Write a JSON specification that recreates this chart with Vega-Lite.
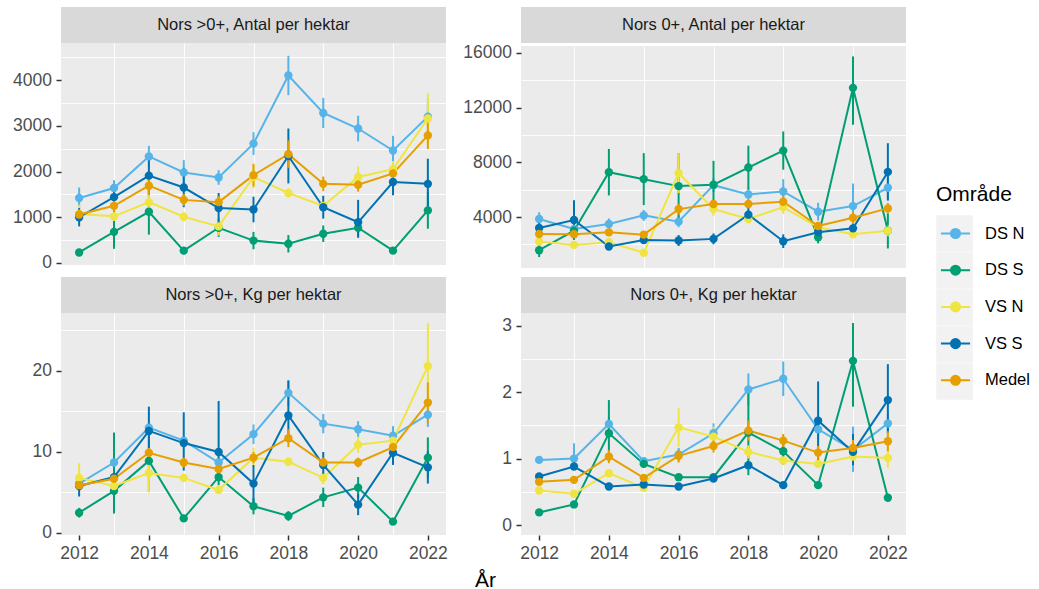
{
"$schema": "https://vega.github.io/schema/vega-lite/v6.json",
"padding": {"left": 12, "top": 7, "right": 4, "bottom": 0},
"background": "white",
"config": {
  "font": "Liberation Sans",
  "view": {"stroke": null},
  "axis": {"labelFont": "Liberation Sans", "labelFontSize": 17.5, "labelColor": "#4D4D4D", "tickColor": "#333333", "tickWidth": 1.5, "tickSize": 5, "labelPadding": 4.5, "domain": false, "gridColor": "#FFFFFF", "gridWidth": 1.8, "titleFont": "Liberation Sans"}
},
"datasets": {"d": [
{"p":"A","o":"DS N","year":2012,"v":1420,"lo":1190,"hi":1650},
{"p":"A","o":"DS N","year":2013,"v":1640,"lo":1470,"hi":1810},
{"p":"A","o":"DS N","year":2014,"v":2330,"lo":2100,"hi":2560},
{"p":"A","o":"DS N","year":2015,"v":1980,"lo":1710,"hi":2250},
{"p":"A","o":"DS N","year":2016,"v":1870,"lo":1710,"hi":2030},
{"p":"A","o":"DS N","year":2017,"v":2610,"lo":2360,"hi":2860},
{"p":"A","o":"DS N","year":2018,"v":4100,"lo":3670,"hi":4530},
{"p":"A","o":"DS N","year":2019,"v":3280,"lo":2950,"hi":3610},
{"p":"A","o":"DS N","year":2020,"v":2940,"lo":2660,"hi":3220},
{"p":"A","o":"DS N","year":2021,"v":2460,"lo":2140,"hi":2780},
{"p":"A","o":"DS N","year":2022,"v":3200,"lo":2820,"hi":3580},
{"p":"A","o":"DS S","year":2012,"v":230,"lo":170,"hi":290},
{"p":"A","o":"DS S","year":2013,"v":680,"lo":310,"hi":1220},
{"p":"A","o":"DS S","year":2014,"v":1120,"lo":620,"hi":1620},
{"p":"A","o":"DS S","year":2015,"v":270,"lo":190,"hi":350},
{"p":"A","o":"DS S","year":2016,"v":770,"lo":570,"hi":970},
{"p":"A","o":"DS S","year":2017,"v":490,"lo":300,"hi":680},
{"p":"A","o":"DS S","year":2018,"v":420,"lo":230,"hi":610},
{"p":"A","o":"DS S","year":2019,"v":640,"lo":460,"hi":820},
{"p":"A","o":"DS S","year":2020,"v":770,"lo":590,"hi":950},
{"p":"A","o":"DS S","year":2021,"v":270,"lo":210,"hi":330},
{"p":"A","o":"DS S","year":2022,"v":1150,"lo":750,"hi":1550},
{"p":"A","o":"VS N","year":2012,"v":1070,"lo":870,"hi":1270},
{"p":"A","o":"VS N","year":2013,"v":1020,"lo":920,"hi":1120},
{"p":"A","o":"VS N","year":2014,"v":1330,"lo":1150,"hi":1510},
{"p":"A","o":"VS N","year":2015,"v":1010,"lo":910,"hi":1110},
{"p":"A","o":"VS N","year":2016,"v":800,"lo":600,"hi":1000},
{"p":"A","o":"VS N","year":2017,"v":1880,"lo":1630,"hi":2130},
{"p":"A","o":"VS N","year":2018,"v":1530,"lo":1430,"hi":1630},
{"p":"A","o":"VS N","year":2019,"v":1250,"lo":1150,"hi":1350},
{"p":"A","o":"VS N","year":2020,"v":1880,"lo":1650,"hi":2110},
{"p":"A","o":"VS N","year":2021,"v":2050,"lo":1870,"hi":2230},
{"p":"A","o":"VS N","year":2022,"v":3160,"lo":2610,"hi":3710},
{"p":"A","o":"VS S","year":2012,"v":1000,"lo":800,"hi":1200},
{"p":"A","o":"VS S","year":2013,"v":1440,"lo":1220,"hi":1660},
{"p":"A","o":"VS S","year":2014,"v":1910,"lo":1490,"hi":2330},
{"p":"A","o":"VS S","year":2015,"v":1650,"lo":1220,"hi":2080},
{"p":"A","o":"VS S","year":2016,"v":1200,"lo":870,"hi":1530},
{"p":"A","o":"VS S","year":2017,"v":1170,"lo":890,"hi":1450},
{"p":"A","o":"VS S","year":2018,"v":2340,"lo":1740,"hi":2940},
{"p":"A","o":"VS S","year":2019,"v":1220,"lo":970,"hi":1470},
{"p":"A","o":"VS S","year":2020,"v":890,"lo":550,"hi":1380},
{"p":"A","o":"VS S","year":2021,"v":1770,"lo":1480,"hi":2060},
{"p":"A","o":"VS S","year":2022,"v":1730,"lo":1180,"hi":2280},
{"p":"A","o":"Medel","year":2012,"v":1060,"lo":960,"hi":1160},
{"p":"A","o":"Medel","year":2013,"v":1250,"lo":1130,"hi":1370},
{"p":"A","o":"Medel","year":2014,"v":1690,"lo":1490,"hi":1890},
{"p":"A","o":"Medel","year":2015,"v":1380,"lo":1250,"hi":1510},
{"p":"A","o":"Medel","year":2016,"v":1330,"lo":1200,"hi":1460},
{"p":"A","o":"Medel","year":2017,"v":1920,"lo":1670,"hi":2170},
{"p":"A","o":"Medel","year":2018,"v":2380,"lo":2080,"hi":2680},
{"p":"A","o":"Medel","year":2019,"v":1730,"lo":1570,"hi":1890},
{"p":"A","o":"Medel","year":2020,"v":1710,"lo":1560,"hi":1860},
{"p":"A","o":"Medel","year":2021,"v":1960,"lo":1790,"hi":2130},
{"p":"A","o":"Medel","year":2022,"v":2790,"lo":2490,"hi":3090},
{"p":"B","o":"DS N","year":2012,"v":3850,"lo":3350,"hi":4350},
{"p":"B","o":"DS N","year":2013,"v":3130,"lo":2830,"hi":3430},
{"p":"B","o":"DS N","year":2014,"v":3490,"lo":3090,"hi":3890},
{"p":"B","o":"DS N","year":2015,"v":4120,"lo":3720,"hi":4520},
{"p":"B","o":"DS N","year":2016,"v":3660,"lo":3260,"hi":4060},
{"p":"B","o":"DS N","year":2017,"v":6330,"lo":5830,"hi":6830},
{"p":"B","o":"DS N","year":2018,"v":5650,"lo":5150,"hi":6150},
{"p":"B","o":"DS N","year":2019,"v":5870,"lo":4970,"hi":6770},
{"p":"B","o":"DS N","year":2020,"v":4390,"lo":3740,"hi":5040},
{"p":"B","o":"DS N","year":2021,"v":4800,"lo":3150,"hi":6450},
{"p":"B","o":"DS N","year":2022,"v":6140,"lo":5290,"hi":6990},
{"p":"B","o":"DS S","year":2012,"v":1570,"lo":1070,"hi":2070},
{"p":"B","o":"DS S","year":2013,"v":3000,"lo":2600,"hi":3400},
{"p":"B","o":"DS S","year":2014,"v":7280,"lo":5580,"hi":8980},
{"p":"B","o":"DS S","year":2015,"v":6770,"lo":4870,"hi":8670},
{"p":"B","o":"DS S","year":2016,"v":6260,"lo":3860,"hi":8660},
{"p":"B","o":"DS S","year":2017,"v":6360,"lo":4610,"hi":8110},
{"p":"B","o":"DS S","year":2018,"v":7620,"lo":6020,"hi":9220},
{"p":"B","o":"DS S","year":2019,"v":8860,"lo":7460,"hi":10260},
{"p":"B","o":"DS S","year":2020,"v":2520,"lo":2070,"hi":2970},
{"p":"B","o":"DS S","year":2021,"v":13450,"lo":10750,"hi":15750},
{"p":"B","o":"DS S","year":2022,"v":3000,"lo":1700,"hi":4300},
{"p":"B","o":"VS N","year":2012,"v":2200,"lo":2000,"hi":2400},
{"p":"B","o":"VS N","year":2013,"v":1960,"lo":1760,"hi":2160},
{"p":"B","o":"VS N","year":2014,"v":2150,"lo":1950,"hi":2350},
{"p":"B","o":"VS N","year":2015,"v":1380,"lo":1180,"hi":1580},
{"p":"B","o":"VS N","year":2016,"v":7210,"lo":5760,"hi":8660},
{"p":"B","o":"VS N","year":2017,"v":4580,"lo":4080,"hi":5080},
{"p":"B","o":"VS N","year":2018,"v":3850,"lo":3550,"hi":4150},
{"p":"B","o":"VS N","year":2019,"v":4730,"lo":4230,"hi":5230},
{"p":"B","o":"VS N","year":2020,"v":3250,"lo":2950,"hi":3550},
{"p":"B","o":"VS N","year":2021,"v":2740,"lo":2540,"hi":2940},
{"p":"B","o":"VS N","year":2022,"v":3000,"lo":2600,"hi":3400},
{"p":"B","o":"VS S","year":2012,"v":3200,"lo":2800,"hi":3600},
{"p":"B","o":"VS S","year":2013,"v":3780,"lo":2330,"hi":5230},
{"p":"B","o":"VS S","year":2014,"v":1840,"lo":1640,"hi":2040},
{"p":"B","o":"VS S","year":2015,"v":2320,"lo":2120,"hi":2520},
{"p":"B","o":"VS S","year":2016,"v":2280,"lo":1880,"hi":2680},
{"p":"B","o":"VS S","year":2017,"v":2400,"lo":2000,"hi":2800},
{"p":"B","o":"VS S","year":2018,"v":4170,"lo":3670,"hi":4670},
{"p":"B","o":"VS S","year":2019,"v":2230,"lo":1730,"hi":2730},
{"p":"B","o":"VS S","year":2020,"v":2880,"lo":2580,"hi":3180},
{"p":"B","o":"VS S","year":2021,"v":3170,"lo":2870,"hi":3470},
{"p":"B","o":"VS S","year":2022,"v":7300,"lo":5200,"hi":9400},
{"p":"B","o":"Medel","year":2012,"v":2760,"lo":2560,"hi":2960},
{"p":"B","o":"Medel","year":2013,"v":2740,"lo":2540,"hi":2940},
{"p":"B","o":"Medel","year":2014,"v":2880,"lo":2680,"hi":3080},
{"p":"B","o":"Medel","year":2015,"v":2710,"lo":2510,"hi":2910},
{"p":"B","o":"Medel","year":2016,"v":4580,"lo":4180,"hi":4980},
{"p":"B","o":"Medel","year":2017,"v":4950,"lo":4650,"hi":5250},
{"p":"B","o":"Medel","year":2018,"v":4950,"lo":4650,"hi":5250},
{"p":"B","o":"Medel","year":2019,"v":5120,"lo":4720,"hi":5520},
{"p":"B","o":"Medel","year":2020,"v":3340,"lo":3040,"hi":3640},
{"p":"B","o":"Medel","year":2021,"v":3950,"lo":3550,"hi":4350},
{"p":"B","o":"Medel","year":2022,"v":4630,"lo":4230,"hi":5030},
{"p":"C","o":"DS N","year":2012,"v":6.1,"lo":5.6,"hi":6.6},
{"p":"C","o":"DS N","year":2013,"v":8.7,"lo":7.9,"hi":9.5},
{"p":"C","o":"DS N","year":2014,"v":13.0,"lo":12.4,"hi":13.6},
{"p":"C","o":"DS N","year":2015,"v":11.4,"lo":10.8,"hi":12.0},
{"p":"C","o":"DS N","year":2016,"v":8.7,"lo":8.1,"hi":9.3},
{"p":"C","o":"DS N","year":2017,"v":12.2,"lo":11.0,"hi":13.4},
{"p":"C","o":"DS N","year":2018,"v":17.3,"lo":15.7,"hi":18.9},
{"p":"C","o":"DS N","year":2019,"v":13.5,"lo":12.3,"hi":14.7},
{"p":"C","o":"DS N","year":2020,"v":12.8,"lo":11.8,"hi":13.8},
{"p":"C","o":"DS N","year":2021,"v":12.0,"lo":10.8,"hi":13.2},
{"p":"C","o":"DS N","year":2022,"v":14.6,"lo":13.1,"hi":16.1},
{"p":"C","o":"DS S","year":2012,"v":2.5,"lo":1.9,"hi":3.1},
{"p":"C","o":"DS S","year":2013,"v":5.2,"lo":2.4,"hi":12.4},
{"p":"C","o":"DS S","year":2014,"v":8.9,"lo":5.1,"hi":12.7},
{"p":"C","o":"DS S","year":2015,"v":1.8,"lo":1.4,"hi":2.2},
{"p":"C","o":"DS S","year":2016,"v":6.9,"lo":5.9,"hi":7.9},
{"p":"C","o":"DS S","year":2017,"v":3.3,"lo":2.3,"hi":4.3},
{"p":"C","o":"DS S","year":2018,"v":2.1,"lo":1.5,"hi":2.7},
{"p":"C","o":"DS S","year":2019,"v":4.4,"lo":3.2,"hi":5.6},
{"p":"C","o":"DS S","year":2020,"v":5.6,"lo":4.3,"hi":6.9},
{"p":"C","o":"DS S","year":2021,"v":1.4,"lo":1.1,"hi":1.7},
{"p":"C","o":"DS S","year":2022,"v":9.3,"lo":6.8,"hi":11.8},
{"p":"C","o":"VS N","year":2012,"v":6.8,"lo":5.2,"hi":8.6},
{"p":"C","o":"VS N","year":2013,"v":5.8,"lo":5.3,"hi":6.3},
{"p":"C","o":"VS N","year":2014,"v":7.4,"lo":5.0,"hi":9.8},
{"p":"C","o":"VS N","year":2015,"v":6.8,"lo":6.3,"hi":7.3},
{"p":"C","o":"VS N","year":2016,"v":5.3,"lo":4.8,"hi":5.8},
{"p":"C","o":"VS N","year":2017,"v":9.3,"lo":8.1,"hi":10.5},
{"p":"C","o":"VS N","year":2018,"v":8.8,"lo":8.3,"hi":9.3},
{"p":"C","o":"VS N","year":2019,"v":6.8,"lo":6.0,"hi":7.6},
{"p":"C","o":"VS N","year":2020,"v":10.9,"lo":9.9,"hi":11.9},
{"p":"C","o":"VS N","year":2021,"v":11.4,"lo":10.4,"hi":12.4},
{"p":"C","o":"VS N","year":2022,"v":20.6,"lo":15.3,"hi":25.9},
{"p":"C","o":"VS S","year":2012,"v":5.8,"lo":4.5,"hi":7.1},
{"p":"C","o":"VS S","year":2013,"v":6.9,"lo":6.4,"hi":7.4},
{"p":"C","o":"VS S","year":2014,"v":12.6,"lo":9.6,"hi":15.6},
{"p":"C","o":"VS S","year":2015,"v":11.1,"lo":7.7,"hi":14.9},
{"p":"C","o":"VS S","year":2016,"v":10.0,"lo":7.1,"hi":16.3},
{"p":"C","o":"VS S","year":2017,"v":6.1,"lo":3.6,"hi":8.4},
{"p":"C","o":"VS S","year":2018,"v":14.5,"lo":11.5,"hi":18.8},
{"p":"C","o":"VS S","year":2019,"v":8.4,"lo":6.8,"hi":10.0},
{"p":"C","o":"VS S","year":2020,"v":3.5,"lo":2.2,"hi":4.8},
{"p":"C","o":"VS S","year":2021,"v":9.9,"lo":8.4,"hi":11.4},
{"p":"C","o":"VS S","year":2022,"v":8.1,"lo":6.1,"hi":10.1},
{"p":"C","o":"Medel","year":2012,"v":5.9,"lo":5.5,"hi":6.3},
{"p":"C","o":"Medel","year":2013,"v":6.7,"lo":6.3,"hi":7.1},
{"p":"C","o":"Medel","year":2014,"v":9.9,"lo":9.3,"hi":10.5},
{"p":"C","o":"Medel","year":2015,"v":8.7,"lo":8.1,"hi":9.3},
{"p":"C","o":"Medel","year":2016,"v":7.9,"lo":7.3,"hi":8.5},
{"p":"C","o":"Medel","year":2017,"v":9.3,"lo":8.6,"hi":10.0},
{"p":"C","o":"Medel","year":2018,"v":11.7,"lo":10.6,"hi":12.8},
{"p":"C","o":"Medel","year":2019,"v":8.7,"lo":8.1,"hi":9.3},
{"p":"C","o":"Medel","year":2020,"v":8.7,"lo":8.1,"hi":9.3},
{"p":"C","o":"Medel","year":2021,"v":10.6,"lo":9.9,"hi":11.3},
{"p":"C","o":"Medel","year":2022,"v":16.1,"lo":13.6,"hi":18.6},
{"p":"D","o":"DS N","year":2012,"v":0.98,"lo":0.93,"hi":1.03},
{"p":"D","o":"DS N","year":2013,"v":1.0,"lo":0.85,"hi":1.23},
{"p":"D","o":"DS N","year":2014,"v":1.52,"lo":1.42,"hi":1.62},
{"p":"D","o":"DS N","year":2015,"v":0.96,"lo":0.91,"hi":1.01},
{"p":"D","o":"DS N","year":2016,"v":1.06,"lo":0.96,"hi":1.16},
{"p":"D","o":"DS N","year":2017,"v":1.38,"lo":1.23,"hi":1.53},
{"p":"D","o":"DS N","year":2018,"v":2.04,"lo":1.8,"hi":2.28},
{"p":"D","o":"DS N","year":2019,"v":2.2,"lo":1.94,"hi":2.46},
{"p":"D","o":"DS N","year":2020,"v":1.44,"lo":1.29,"hi":1.59},
{"p":"D","o":"DS N","year":2021,"v":1.13,"lo":0.8,"hi":1.48},
{"p":"D","o":"DS N","year":2022,"v":1.53,"lo":1.38,"hi":1.68},
{"p":"D","o":"DS S","year":2012,"v":0.19,"lo":0.16,"hi":0.22},
{"p":"D","o":"DS S","year":2013,"v":0.31,"lo":0.28,"hi":0.34},
{"p":"D","o":"DS S","year":2014,"v":1.38,"lo":1.1,"hi":1.88},
{"p":"D","o":"DS S","year":2015,"v":0.92,"lo":0.87,"hi":0.97},
{"p":"D","o":"DS S","year":2016,"v":0.72,"lo":0.67,"hi":0.77},
{"p":"D","o":"DS S","year":2017,"v":0.72,"lo":0.67,"hi":0.77},
{"p":"D","o":"DS S","year":2018,"v":1.39,"lo":0.75,"hi":2.03},
{"p":"D","o":"DS S","year":2019,"v":1.11,"lo":0.91,"hi":1.31},
{"p":"D","o":"DS S","year":2020,"v":0.6,"lo":0.55,"hi":0.65},
{"p":"D","o":"DS S","year":2021,"v":2.47,"lo":1.78,"hi":3.04},
{"p":"D","o":"DS S","year":2022,"v":0.41,"lo":0.36,"hi":0.46},
{"p":"D","o":"VS N","year":2012,"v":0.52,"lo":0.49,"hi":0.55},
{"p":"D","o":"VS N","year":2013,"v":0.47,"lo":0.44,"hi":0.5},
{"p":"D","o":"VS N","year":2014,"v":0.78,"lo":0.73,"hi":0.83},
{"p":"D","o":"VS N","year":2015,"v":0.56,"lo":0.53,"hi":0.59},
{"p":"D","o":"VS N","year":2016,"v":1.47,"lo":1.18,"hi":1.76},
{"p":"D","o":"VS N","year":2017,"v":1.33,"lo":1.18,"hi":1.48},
{"p":"D","o":"VS N","year":2018,"v":1.1,"lo":1.0,"hi":1.2},
{"p":"D","o":"VS N","year":2019,"v":0.97,"lo":0.92,"hi":1.02},
{"p":"D","o":"VS N","year":2020,"v":0.92,"lo":0.87,"hi":0.97},
{"p":"D","o":"VS N","year":2021,"v":1.03,"lo":0.98,"hi":1.08},
{"p":"D","o":"VS N","year":2022,"v":1.01,"lo":0.86,"hi":1.16},
{"p":"D","o":"VS S","year":2012,"v":0.73,"lo":0.7,"hi":0.76},
{"p":"D","o":"VS S","year":2013,"v":0.88,"lo":0.85,"hi":0.91},
{"p":"D","o":"VS S","year":2014,"v":0.58,"lo":0.55,"hi":0.61},
{"p":"D","o":"VS S","year":2015,"v":0.61,"lo":0.58,"hi":0.64},
{"p":"D","o":"VS S","year":2016,"v":0.58,"lo":0.55,"hi":0.61},
{"p":"D","o":"VS S","year":2017,"v":0.7,"lo":0.67,"hi":0.73},
{"p":"D","o":"VS S","year":2018,"v":0.9,"lo":0.85,"hi":0.95},
{"p":"D","o":"VS S","year":2019,"v":0.6,"lo":0.55,"hi":0.65},
{"p":"D","o":"VS S","year":2020,"v":1.57,"lo":0.98,"hi":2.16},
{"p":"D","o":"VS S","year":2021,"v":1.1,"lo":0.9,"hi":1.37},
{"p":"D","o":"VS S","year":2022,"v":1.88,"lo":1.38,"hi":2.42},
{"p":"D","o":"Medel","year":2012,"v":0.65,"lo":0.62,"hi":0.68},
{"p":"D","o":"Medel","year":2013,"v":0.68,"lo":0.65,"hi":0.71},
{"p":"D","o":"Medel","year":2014,"v":1.03,"lo":0.93,"hi":1.13},
{"p":"D","o":"Medel","year":2015,"v":0.71,"lo":0.68,"hi":0.74},
{"p":"D","o":"Medel","year":2016,"v":1.04,"lo":0.94,"hi":1.14},
{"p":"D","o":"Medel","year":2017,"v":1.19,"lo":1.09,"hi":1.29},
{"p":"D","o":"Medel","year":2018,"v":1.42,"lo":1.27,"hi":1.57},
{"p":"D","o":"Medel","year":2019,"v":1.27,"lo":1.17,"hi":1.37},
{"p":"D","o":"Medel","year":2020,"v":1.09,"lo":0.99,"hi":1.19},
{"p":"D","o":"Medel","year":2021,"v":1.16,"lo":1.04,"hi":1.28},
{"p":"D","o":"Medel","year":2022,"v":1.26,"lo":1.11,"hi":1.41}
]},
"columns": 2,
"spacing": {"row": 5, "column": 14},
"concat": [
  {"vconcat": [
    {"width": 385, "height": 36, "view": {"fill": "#D9D9D9", "stroke": null},
     "data": {"values": [{"t": "Nors >0+, Antal per hektar"}]},
     "mark": {"type": "text", "fontSize": 16.5, "color": "#1A1A1A", "font": "Liberation Sans"},
     "encoding": {"text": {"field": "t"}}},
    {"width": 385, "height": 222, "view": {"fill": "#EBEBEB", "stroke": null},
     "data": {"name": "d"},
     "transform": [{"filter": {"field": "p", "equal": "A"}}],
     "resolve": {"axis": {"x": "independent", "y": "independent"}},
     "layer": [
      {"mark": {"type": "rule", "strokeWidth": 2},
       "encoding": {
        "x": {"field": "year", "type": "quantitative", "scale": {"domain": [2011.48, 2022.52], "nice": false, "zero": false}, "axis": {"orient": "bottom", "values": [2013, 2015, 2017, 2019, 2021], "labels": false, "ticks": false, "gridWidth": 0.9, "title": null}},
        "y": {"field": "lo", "type": "quantitative", "scale": {"domain": [-44, 4810], "nice": false, "zero": false}, "axis": {"orient": "left", "values": [500, 1500, 2500, 3500, 4500], "labels": false, "ticks": false, "gridWidth": 0.9, "title": null}},
        "y2": {"field": "hi"},
        "color": {"field": "o", "type": "nominal", "scale": {"domain": ["DS N", "DS S", "VS N", "VS S", "Medel"], "range": ["#56B4E9", "#009E73", "#F0E442", "#0072B2", "#E69F00"]}}}},
      {"mark": {"type": "line", "strokeWidth": 2},
       "encoding": {
        "x": {"field": "year", "type": "quantitative", "scale": {"domain": [2011.48, 2022.52], "nice": false, "zero": false}, "axis": {"orient": "bottom", "values": [2012, 2014, 2016, 2018, 2020, 2022], "labels": false, "ticks": false, "title": null}},
        "y": {"field": "v", "type": "quantitative", "scale": {"domain": [-44, 4810], "nice": false, "zero": false}, "axis": {"orient": "left", "values": [0, 1000, 2000, 3000, 4000], "format": "d", "title": null}},
        "color": {"field": "o", "type": "nominal", "scale": {"domain": ["DS N", "DS S", "VS N", "VS S", "Medel"], "range": ["#56B4E9", "#009E73", "#F0E442", "#0072B2", "#E69F00"]},
          "legend": {"title": "Område", "orient": "none", "legendX": 875, "legendY": 177, "padding": 0, "zindex": 2,
            "titleFontSize": 21, "titleFontWeight": "normal", "titleColor": "#000000", "titleFont": "Liberation Sans", "titlePadding": 9,
            "labelFontSize": 16.5, "labelFont": "Liberation Sans", "labelColor": "#000000", "labelOffset": 10,
            "symbolType": "M-0.8,0H0.8M-0.25,0A0.25,0.25,0,1,1,0.25,0A0.25,0.25,0,1,1,-0.25,0Z",
            "symbolSize": 1325, "symbolStrokeWidth": 2, "rowPadding": 7.7,
            "encode": {"symbols": {"update": {"fill": {"scale": "color", "field": "value"}, "stroke": {"scale": "color", "field": "value"}, "opacity": {"value": 1}, "fillOpacity": {"value": 1}}}}}}}},
      {"mark": {"type": "point", "filled": true, "size": 70},
       "encoding": {
        "x": {"field": "year", "type": "quantitative", "axis": null},
        "y": {"field": "v", "type": "quantitative", "axis": null},
        "color": {"field": "o", "type": "nominal"},
        "opacity": {"field": "o", "type": "ordinal", "scale": {"domain": ["Medel", "VS S", "VS N", "DS S", "DS N"], "range": [1, 1, 1, 1, 1]},
          "legend": {"title": null, "orient": "none", "legendX": 875, "legendY": 208, "padding": 0, "zindex": 1,
            "symbolType": "square", "symbolSize": 1340, "symbolStrokeWidth": 0, "rowPadding": 0,
            "symbolFillColor": "#F2F2F2", "symbolStrokeColor": "#F2F2F2", "symbolOpacity": 1,
            "labelExpr": "''", "labelFontSize": 16.5, "labelOffset": 0,
            "encode": {"symbols": {"enter": {"fill": {"value": "#F2F2F2"}}, "update": {"fill": {"value": "#F2F2F2"}, "stroke": {"value": "#F2F2F2"}, "strokeWidth": {"value": 0}, "opacity": {"value": 1}, "fillOpacity": {"value": 1}}}}}}}}
     ]}
  ], "spacing": 0},
  {"vconcat": [
    {"width": 385, "height": 36, "view": {"fill": "#D9D9D9", "stroke": null},
     "data": {"values": [{"t": "Nors 0+, Antal per hektar"}]},
     "mark": {"type": "text", "fontSize": 16.5, "color": "#1A1A1A", "font": "Liberation Sans"},
     "encoding": {"text": {"field": "t"}}},
    {"width": 385, "height": 222, "view": {"fill": "#EBEBEB", "stroke": null},
     "data": {"name": "d"},
     "transform": [{"filter": {"field": "p", "equal": "B"}}],
     "resolve": {"axis": {"x": "independent", "y": "independent"}},
     "layer": [
      {"mark": {"type": "rule", "strokeWidth": 2},
       "encoding": {
        "x": {"field": "year", "type": "quantitative", "scale": {"domain": [2011.48, 2022.52], "nice": false, "zero": false}, "axis": {"orient": "bottom", "values": [2013, 2015, 2017, 2019, 2021], "labels": false, "ticks": false, "gridWidth": 0.9, "title": null}},
        "y": {"field": "lo", "type": "quantitative", "scale": {"domain": [269, 16512], "nice": false, "zero": false}, "axis": {"orient": "left", "values": [2000, 6000, 10000, 14000], "labels": false, "ticks": false, "gridWidth": 0.9, "title": null}},
        "y2": {"field": "hi"},
        "color": {"field": "o", "type": "nominal"}}},
      {"mark": {"type": "line", "strokeWidth": 2},
       "encoding": {
        "x": {"field": "year", "type": "quantitative", "scale": {"domain": [2011.48, 2022.52], "nice": false, "zero": false}, "axis": {"orient": "bottom", "values": [2012, 2014, 2016, 2018, 2020, 2022], "labels": false, "ticks": false, "title": null}},
        "y": {"field": "v", "type": "quantitative", "scale": {"domain": [269, 16512], "nice": false, "zero": false}, "axis": {"orient": "left", "values": [4000, 8000, 12000, 16000], "format": "d", "title": null}},
        "color": {"field": "o", "type": "nominal"}}},
      {"mark": {"type": "point", "filled": true, "size": 70, "opacity": 1},
       "encoding": {
        "x": {"field": "year", "type": "quantitative", "axis": null},
        "y": {"field": "v", "type": "quantitative", "axis": null},
        "color": {"field": "o", "type": "nominal"}}}
     ]}
  ], "spacing": 0},
  {"vconcat": [
    {"width": 385, "height": 36, "view": {"fill": "#D9D9D9", "stroke": null},
     "data": {"values": [{"t": "Nors >0+, Kg per hektar"}]},
     "mark": {"type": "text", "fontSize": 16.5, "color": "#1A1A1A", "font": "Liberation Sans"},
     "encoding": {"text": {"field": "t"}}},
    {"width": 385, "height": 222, "view": {"fill": "#EBEBEB", "stroke": null},
     "data": {"name": "d"},
     "transform": [{"filter": {"field": "p", "equal": "C"}}],
     "resolve": {"axis": {"x": "independent", "y": "independent"}},
     "layer": [
      {"mark": {"type": "rule", "strokeWidth": 2},
       "encoding": {
        "x": {"field": "year", "type": "quantitative", "scale": {"domain": [2011.48, 2022.52], "nice": false, "zero": false}, "axis": {"orient": "bottom", "values": [2013, 2015, 2017, 2019, 2021], "labels": false, "ticks": false, "gridWidth": 0.9, "title": null}},
        "y": {"field": "lo", "type": "quantitative", "scale": {"domain": [-0.25, 27.16], "nice": false, "zero": false}, "axis": {"orient": "left", "values": [5, 15, 25], "labels": false, "ticks": false, "gridWidth": 0.9, "title": null}},
        "y2": {"field": "hi"},
        "color": {"field": "o", "type": "nominal"}}},
      {"mark": {"type": "line", "strokeWidth": 2},
       "encoding": {
        "x": {"field": "year", "type": "quantitative", "scale": {"domain": [2011.48, 2022.52], "nice": false, "zero": false}, "axis": {"orient": "bottom", "values": [2012, 2014, 2016, 2018, 2020, 2022], "format": "d", "title": null}},
        "y": {"field": "v", "type": "quantitative", "scale": {"domain": [-0.25, 27.16], "nice": false, "zero": false}, "axis": {"orient": "left", "values": [0, 10, 20], "format": "d", "title": null}},
        "color": {"field": "o", "type": "nominal"}}},
      {"mark": {"type": "point", "filled": true, "size": 70, "opacity": 1},
       "encoding": {
        "x": {"field": "year", "type": "quantitative", "axis": null},
        "y": {"field": "v", "type": "quantitative", "axis": null},
        "color": {"field": "o", "type": "nominal"}}}
     ]}
  ], "spacing": 0},
  {"vconcat": [
    {"width": 385, "height": 36, "view": {"fill": "#D9D9D9", "stroke": null},
     "data": {"values": [{"t": "Nors 0+, Kg per hektar"}]},
     "mark": {"type": "text", "fontSize": 16.5, "color": "#1A1A1A", "font": "Liberation Sans"},
     "encoding": {"text": {"field": "t"}}},
    {"width": 385, "height": 222, "view": {"fill": "#EBEBEB", "stroke": null},
     "data": {"name": "d"},
     "transform": [{"filter": {"field": "p", "equal": "D"}}],
     "resolve": {"axis": {"x": "independent", "y": "independent"}},
     "layer": [
      {"mark": {"type": "rule", "strokeWidth": 2},
       "encoding": {
        "x": {"field": "year", "type": "quantitative", "scale": {"domain": [2011.48, 2022.52], "nice": false, "zero": false}, "axis": {"orient": "bottom", "values": [2013, 2015, 2017, 2019, 2021], "labels": false, "ticks": false, "gridWidth": 0.9, "title": null}},
        "y": {"field": "lo", "type": "quantitative", "scale": {"domain": [-0.15, 3.19], "nice": false, "zero": false}, "axis": {"orient": "left", "values": [0.5, 1.5, 2.5], "labels": false, "ticks": false, "gridWidth": 0.9, "title": null}},
        "y2": {"field": "hi"},
        "color": {"field": "o", "type": "nominal"}}},
      {"mark": {"type": "line", "strokeWidth": 2},
       "encoding": {
        "x": {"field": "year", "type": "quantitative", "scale": {"domain": [2011.48, 2022.52], "nice": false, "zero": false}, "axis": {"orient": "bottom", "values": [2012, 2014, 2016, 2018, 2020, 2022], "format": "d", "title": "År", "titleX": -36, "titleY": 51, "titleBaseline": "alphabetic", "titleFontSize": 21, "titleFontWeight": "normal", "titleColor": "#000000"}},
        "y": {"field": "v", "type": "quantitative", "scale": {"domain": [-0.15, 3.19], "nice": false, "zero": false}, "axis": {"orient": "left", "values": [0, 1, 2, 3], "format": "d", "title": null}},
        "color": {"field": "o", "type": "nominal"}}},
      {"mark": {"type": "point", "filled": true, "size": 70, "opacity": 1},
       "encoding": {
        "x": {"field": "year", "type": "quantitative", "axis": null},
        "y": {"field": "v", "type": "quantitative", "axis": null},
        "color": {"field": "o", "type": "nominal"}}}
     ]}
  ], "spacing": 0}
]
}
